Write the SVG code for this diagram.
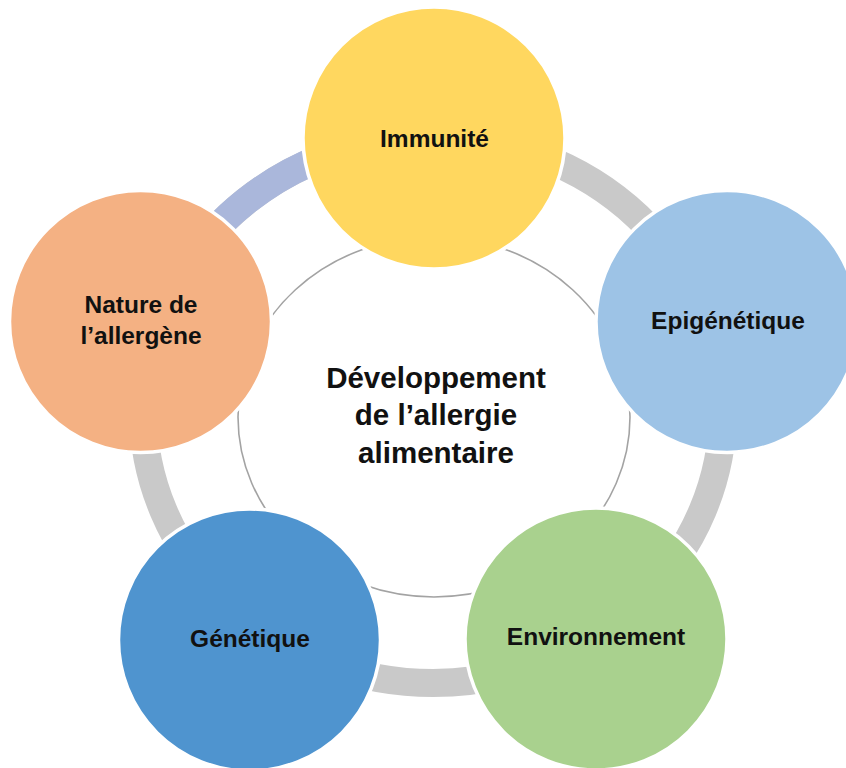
<svg xmlns="http://www.w3.org/2000/svg" width="846" height="768" viewBox="0 0 846 768">
<style>
.lbl{font-family:"Liberation Sans",Arial,sans-serif;font-weight:bold;font-size:24.5px;fill:#111;text-anchor:middle}
.ctr{font-family:"Liberation Sans",Arial,sans-serif;font-weight:bold;font-size:29.5px;fill:#111;text-anchor:middle}
.node{stroke:#fff;stroke-width:3.5}
.ring{fill:none;stroke-width:28}
</style>
<rect width="846" height="768" fill="#fff"/>
<g id="connectors">
<ellipse class="ring" cx="433" cy="410" rx="290" ry="273" stroke="#c9c9c9"/>
<path class="ring" d="M160.5 316.6 A290 273 0 0 1 382.6 141.1" stroke="#aab7db"/>
</g>
<g id="center">
<ellipse cx="434" cy="417" rx="196" ry="180" fill="#fff" stroke="#a3a3a3" stroke-width="1.6"/>
<text class="ctr" x="436" y="388">Développement</text>
<text class="ctr" x="436" y="425">de l’allergie</text>
<text class="ctr" x="436" y="463">alimentaire</text>
</g>
<g id="immunite">
<circle class="node" cx="434" cy="138" r="131" fill="#ffd75f"/>
<text class="lbl" x="434.5" y="147">Immunité</text>
</g>
<g id="epigenetique">
<circle class="node" cx="727" cy="321.5" r="131" fill="#9dc3e6"/>
<text class="lbl" x="728" y="329">Epigénétique</text>
</g>
<g id="environnement">
<circle class="node" cx="596" cy="639" r="131" fill="#a9d18e"/>
<text class="lbl" x="596" y="645">Environnement</text>
</g>
<g id="genetique">
<circle class="node" cx="249.5" cy="640" r="131" fill="#4f94cf"/>
<text class="lbl" x="250" y="647">Génétique</text>
</g>
<g id="nature">
<circle class="node" cx="140.5" cy="321.5" r="131" fill="#f4b183"/>
<text class="lbl" x="141" y="313">Nature de</text>
<text class="lbl" x="141" y="344">l’allergène</text>
</g>
</svg>
